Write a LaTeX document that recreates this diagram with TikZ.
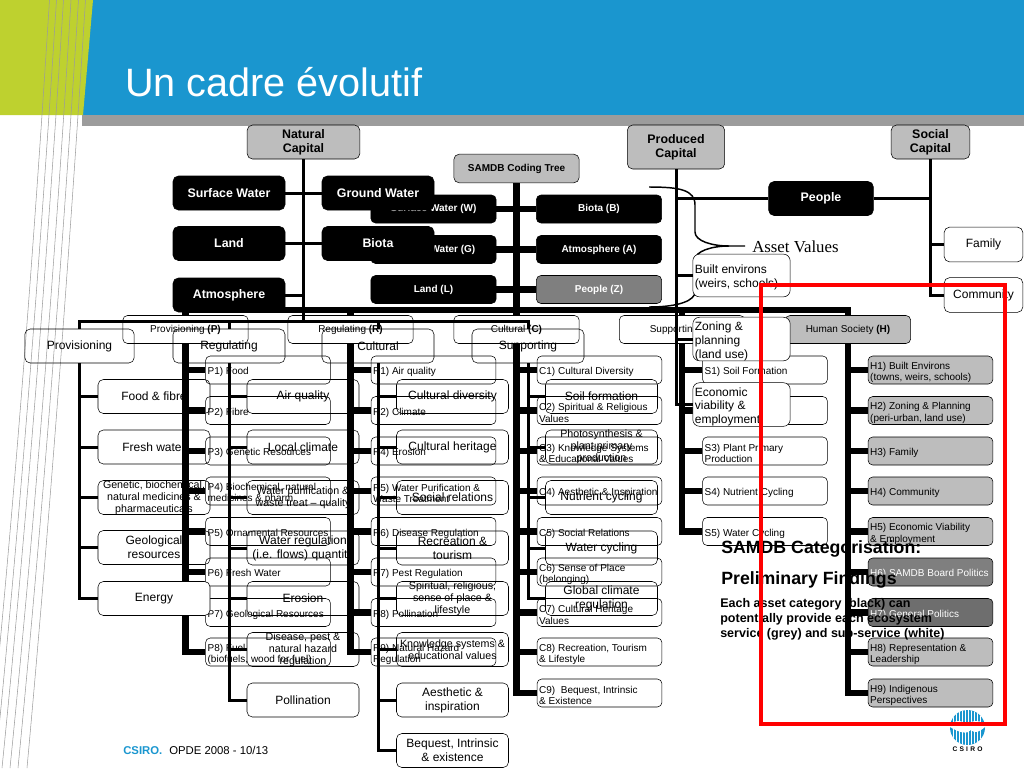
\documentclass[tikz,border=0pt]{standalone}
\usepackage{tikz}
\usepackage{xcolor}
\usepackage{fontspec}
\setmainfont{Liberation Sans}
\newfontfamily\assetfont{Liberation Serif}
\definecolor{slideblue}{HTML}{1A96CF}
\definecolor{slidegreen}{HTML}{BED12F}
\definecolor{bandgray}{HTML}{9C9C9C}
\definecolor{boxgray}{HTML}{BDBDBD}
\definecolor{darkgray}{HTML}{7F7F7F}
\definecolor{darkergray}{HTML}{6E6E6E}
\tikzset{
  trunk/.style={line width=5pt},
  stem/.style={line width=2.25pt},
  slant/.style={line width=.4pt,draw=bandgray},
  capbox/.style={draw,rounded corners=4pt,fill=boxgray,inner sep=0pt,align=center,
    font=\bfseries\fontsize{9.3}{10.8}\selectfont},
  assetbox/.style={draw,fill=black,text=white,rounded corners=4pt,inner sep=0pt,align=center,
    minimum width=84pt,minimum height=25.5pt,font=\bfseries\fontsize{9.3}{11}\selectfont},
  codebox/.style={draw,fill=black,text=white,rounded corners=3.5pt,inner sep=0pt,
    minimum width=94pt,minimum height=21pt,font=\bfseries\fontsize{7.5}{9}\selectfont},
  groupbox/.style={draw,rounded corners=3.5pt,inner sep=0pt,
    minimum width=94pt,minimum height=21pt,font=\fontsize{7.5}{9}\selectfont},
  subbox/.style={draw,rounded corners=3.5pt,inner ysep=0pt,inner xsep=1.6pt,text width=90.5pt,
    minimum height=21pt,align=flush left,font=\fontsize{7.5}{8.8}\selectfont,
    execute at begin node={\leavevmode\rule{0pt}{9pt}}},
  treebox/.style={draw,rounded corners=4pt,inner sep=0pt,align=center,
    minimum width=84pt,minimum height=25.5pt,font=\fontsize{9}{10.5}\selectfont},
  smallbox/.style={treebox,font=\fontsize{8}{9}\selectfont},
  leftbox/.style={draw,fill=white,rounded corners=5pt,inner ysep=0pt,inner xsep=1.5pt,text width=70pt,
    minimum height=32pt,align=flush left,font=\fontsize{9}{10.4}\selectfont,
    execute at begin node={\leavevmode\rule{0pt}{10pt}}},
}
\begin{document}
\begin{tikzpicture}[x=.75pt,y=-.75pt]
\useasboundingbox (0,0) rectangle (1024,768);
% slide
\fill [slideblue] (80,0) rectangle (1024,115);
\fill [slidegreen] (0,0) -- (93,0) -- (83,115) -- (0,115) -- cycle;
\fill [bandgray] (82,115) rectangle (1024,126);
\draw [slant] (85.5,0) .. controls (76,150) and (56,450) .. (27,768);
\draw [slant] (78.5,0) .. controls (69,150) and (49,450) .. (18,768);
\draw [slant] (71,0) .. controls (62,150) and (42,450) .. (10,768);
\draw [slant] (63.5,0) .. controls (54,150) and (34,450) .. (2,768);
\draw [slant] (56.5,0) .. controls (47,150) and (27,450) .. (-5,768);
\draw [slant] (49.5,0) .. controls (40,150) and (20,450) .. (-12,768);
\node [anchor=base west,inner sep=0pt,text=white,font=\fontsize{29.7}{32}\selectfont] (slidetitle) at (125,96) {Un cadre évolutif};

% coding tree
\node [capbox,minimum width=94pt,minimum height=21.5pt,font=\bfseries\fontsize{7.5}{9}\selectfont] (codetree) at (516.5,168.5) {SAMDB Coding Tree};
\node [codebox] (surfw) at (433.5,209) {Surface Water (W)};
\node [codebox] (groundg) at (433.5,249.5) {Ground Water (G)};
\node [codebox] (landl) at (433.5,289.5) {Land (L)};
\node [codebox] (biotab) at (599,209) {Biota (B)};
\node [codebox] (atmosa) at (599,249.5) {Atmosphere (A)};
\node [codebox,fill=darkgray] (peoplez) at (599,289.5) {People (Z)};
\coordinate (codejoin) at (516.5,310);
\node [groupbox] (provp) at (185.5,329.5) {Provisioning \textbf{(P)}};
\node [groupbox] (regr) at (350.5,329.5) {Regulating \textbf{(R)}};
\node [groupbox] (culc) at (516.5,329.5) {Cultural \textbf{(C)}};
\node [groupbox] (supps) at (682,329.5) {Supporting \textbf{(S)}};
\node [groupbox,fill=boxgray] (humanh) at (848,329.5) {Human Society \textbf{(H)}};

\node [subbox] (p1) at (268,370) {P1) Food};
\node [subbox] (p2) at (268,410.5) {P2) Fibre};
\node [subbox] (p3) at (268,451) {P3) Genetic Resources};
\node [subbox] (p4) at (268,491) {P4) Biochemical, natural\\medicines \& pharm.};
\node [subbox] (p5) at (268,531.5) {P5) Ornamental Resources};
\node [subbox] (p6) at (268,572) {P6) Fresh Water};
\node [subbox] (p7) at (268,612.5) {P7) Geological Resources};
\node [subbox] (p8) at (268,652) {P8) Fuel\\(biofuels, wood for fuel)};

\node [subbox] (r1) at (433.5,370) {R1) Air quality};
\node [subbox] (r2) at (433.5,410.5) {R2) Climate};
\node [subbox] (r4) at (433.5,451) {R4) Erosion};
\node [subbox] (r5) at (433.5,491) {R5) Water Purification \&\\Waste Treatment};
\node [subbox] (r6) at (433.5,531.5) {R6) Disease Regulation};
\node [subbox] (r7) at (433.5,572) {R7) Pest Regulation};
\node [subbox] (r8) at (433.5,612.5) {R8) Pollination};
\node [subbox] (r9) at (433.5,652) {R9) Natural Hazard\\Regulation};

\node [subbox] (c1) at (599.5,370) {C1) Cultural Diversity};
\node [subbox] (c2) at (599.5,410.5) {C2) Spiritual \& Religious\\Values};
\node [subbox] (c3) at (599.5,451) {C3) Knowledge Systems\\\& Educational Values};
\node [subbox] (c4) at (599.5,491) {C4) Aesthetic \& Inspiration};
\node [subbox] (c5) at (599.5,531.5) {C5) Social Relations};
\node [subbox] (c6) at (599.5,572) {C6) Sense of Place\\(belonging)};
\node [subbox] (c7) at (599.5,612.5) {C7) Cultural Heritage\\Values};
\node [subbox] (c8) at (599.5,652) {C8) Recreation, Tourism\\\& Lifestyle};
\node [subbox] (c9) at (599.5,693) {C9)~ Bequest, Intrinsic\\\& Existence};

\node [subbox] (s1) at (765,370) {S1) Soil Formation};
\node [subbox] (s2) at (765,410.5) {};
\node [subbox] (s3) at (765,451) {S3) Plant Primary\\Production};
\node [subbox] (s4) at (765,491) {S4) Nutrient Cycling};
\node [subbox] (s5) at (765,531.5) {S5) Water Cycling};

\node [subbox,fill=boxgray] (h1) at (930.5,370) {H1) Built Environs\\(towns, weirs, schools)};
\node [subbox,fill=boxgray] (h2) at (930.5,410.5) {H2) Zoning \& Planning\\(peri-urban, land use)};
\node [subbox,fill=boxgray] (h3) at (930.5,451) {H3) Family};
\node [subbox,fill=boxgray] (h4) at (930.5,491) {H4) Community};
\node [subbox,fill=boxgray] (h5) at (930.5,531.5) {H5) Economic Viability\\\& Employment};
\node [subbox,fill=darkgray,text=white] (h6) at (930.5,572) {H6) SAMDB Board Politics};
\node [subbox,fill=darkergray,text=white] (h7) at (930.5,612.5) {H7) General Politics};
\node [subbox,fill=boxgray] (h8) at (930.5,652) {H8) Representation \&\\Leadership};
\node [subbox,fill=boxgray] (h9) at (930.5,693) {H9) Indigenous\\Perspectives};

\draw [trunk] (surfw.east) -- (biotab.west);
\draw [trunk] (groundg.east) -- (atmosa.west);
\draw [trunk] (landl.east) -- (peoplez.west);
\draw [trunk] (codetree.south) -- (codejoin);
\draw [trunk] (provp.north) |- (codejoin) -| (humanh.north);
\draw [trunk] (regr.north) |- (codejoin);
\draw [trunk] (culc.north) |- (codejoin);
\draw [trunk] (supps.north) |- (codejoin);
\draw [trunk] (provp.south) |- (p1.west);
\draw [trunk] (provp.south) |- (p2.west);
\draw [trunk] (provp.south) |- (p3.west);
\draw [trunk] (provp.south) |- (p4.west);
\draw [trunk] (provp.south) |- (p5.west);
\draw [trunk] (provp.south) |- (p6.west);
\draw [trunk] (provp.south) |- (p7.west);
\draw [trunk] (provp.south) |- (p8.west);
\draw [trunk] (regr.south) |- (r1.west);
\draw [trunk] (regr.south) |- (r2.west);
\draw [trunk] (regr.south) |- (r4.west);
\draw [trunk] (regr.south) |- (r5.west);
\draw [trunk] (regr.south) |- (r6.west);
\draw [trunk] (regr.south) |- (r7.west);
\draw [trunk] (regr.south) |- (r8.west);
\draw [trunk] (regr.south) |- (r9.west);
\draw [trunk] (culc.south) |- (c1.west);
\draw [trunk] (culc.south) |- (c2.west);
\draw [trunk] (culc.south) |- (c3.west);
\draw [trunk] (culc.south) |- (c4.west);
\draw [trunk] (culc.south) |- (c5.west);
\draw [trunk] (culc.south) |- (c6.west);
\draw [trunk] (culc.south) |- (c7.west);
\draw [trunk] (culc.south) |- (c8.west);
\draw [trunk] (culc.south) |- (c9.west);
\draw [trunk] (supps.south) |- (s1.west);
\draw [trunk] (supps.south) |- (s2.west);
\draw [trunk] (supps.south) |- (s3.west);
\draw [trunk] (supps.south) |- (s4.west);
\draw [trunk] (supps.south) |- (s5.west);
\draw [trunk] (humanh.south) |- (h1.west);
\draw [trunk] (humanh.south) |- (h2.west);
\draw [trunk] (humanh.south) |- (h3.west);
\draw [trunk] (humanh.south) |- (h4.west);
\draw [trunk] (humanh.south) |- (h5.west);
\draw [trunk] (humanh.south) |- (h6.west);
\draw [trunk] (humanh.south) |- (h7.west);
\draw [trunk] (humanh.south) |- (h8.west);
\draw [trunk] (humanh.south) |- (h9.west);

% capital trees
\draw [line width=1.1pt] (649,187) .. controls (680,187) and (695,190) .. (695,205) -- (695,232) .. controls (695,241) and (712,246) .. (729,246) -- (745,246);
\draw [line width=1.1pt] (729,246) .. controls (712,246) and (695,251) .. (695,260) -- (695,292) .. controls (695,300) and (680,307) .. (649,307);
\node [anchor=west,inner sep=0pt,font=\assetfont\fontsize{12.6}{14}\selectfont] (assetval) at (752,247) {Asset Values};

\node [capbox,minimum width=84.5pt,minimum height=25.5pt] (natcap) at (303.5,142) {Natural\\Capital};
\node [capbox,minimum width=73pt,minimum height=33pt] (prodcap) at (676,147) {Produced\\Capital};
\node [capbox,minimum width=59pt,minimum height=25.5pt] (soccap) at (930.5,142) {Social\\Capital};

\node [assetbox] (surface) at (229,193) {Surface Water};
\node [assetbox] (ground) at (378,193) {Ground Water};
\node [assetbox] (land) at (229,243.5) {Land};
\node [assetbox] (biota) at (378,243.5) {Biota};
\node [assetbox] (atmos) at (229,295) {Atmosphere};
\node [assetbox,minimum width=78.5pt] (people) at (821,198.5) {People};

\coordinate (capjoin) at (303.5,321);
\node [treebox,minimum width=82pt] (prov) at (79.5,346) {Provisioning};
\node [treebox] (reg) at (229,346) {Regulating};
\node [treebox] (cul) at (378,346) {Cultural};
\node [treebox] (supp) at (528,346) {Supporting};

\node [treebox] (food) at (154,396.5) {Food \& fibre};
\node [treebox] (fresh) at (154,447) {Fresh water};
\node [smallbox] (genetic) at (154,497.5) {Genetic, biochemical,\\natural medicines \&\\pharmaceuticals};
\node [treebox] (geo) at (154,547.5) {Geological\\resources};

\node [treebox] (airq) at (303,396.5) {Air quality};
\node [treebox] (localc) at (303,447) {Local climate};
\node [smallbox] (waterp) at (303,497.5) {Water purification \&\\waste treat -- quality};
\node [treebox] (waterr) at (303,548) {Water regulation\\(i.e. flows) quantity};
\node [treebox] (erosion) at (303,598.5) {Erosion};
\node [smallbox] (disease) at (303,649.5) {Disease, pest \&\\natural hazard\\regulation};
\node [treebox] (pollin) at (303,700) {Pollination};

\node [treebox] (culdiv) at (452.5,396.5) {Cultural diversity};
\node [treebox] (culher) at (452.5,447) {Cultural heritage};
\node [treebox] (socrel) at (452.5,497.5) {Social relations};
\node [treebox] (recre) at (452.5,548) {Recreation \&\\tourism};
\node [smallbox] (spirit) at (452.5,598.5) {Spiritual, religious,\\sense of place \&\\lifestyle};
\node [smallbox] (knowl) at (452.5,649.5) {Knowledge systems \&\\educational values};
\node [treebox] (aesth) at (452.5,700) {Aesthetic \&\\inspiration};
\node [treebox] (bequ) at (452.5,750.5) {Bequest, Intrinsic\\\& existence};

\node [treebox] (soilf) at (601.5,396.5) {Soil formation};
\node [smallbox] (photo) at (601.5,447) {Photosynthesis \&\\plant primary\\production};
\node [treebox] (nutri) at (601.5,497.5) {Nutrient cycling};
\node [treebox] (waterc) at (601.5,548) {Water cycling};
\node [treebox] (globalc) at (601.5,598.5) {Global climate\\regulation};

\node [treebox,minimum width=59pt,minimum height=26pt] (family) at (983.5,244.5) {Family};
\node [treebox,minimum width=59pt,minimum height=26pt] (commu) at (983.5,295) {Community};

\draw [stem] (surface.east) -- (ground.west);
\draw [stem] (land.east) -- (biota.west);
\draw [stem] (atmos.east) -| (natcap.south);
\draw [stem] (natcap.south) -- (capjoin);
\draw [stem] (prov.north) |- (capjoin) -| (supp.north);
\draw [stem] (reg.north) |- (capjoin);
\draw [stem] (cul.north) |- (capjoin);
\draw [stem] (prov.south) |- (food.west);
\draw [stem] (prov.south) |- (fresh.west);
\draw [stem] (prov.south) |- (genetic.west);
\draw [stem] (prov.south) |- (geo.west);
\draw [stem] (reg.south) |- (airq.west);
\draw [stem] (reg.south) |- (localc.west);
\draw [stem] (reg.south) |- (waterp.west);
\draw [stem] (reg.south) |- (waterr.west);
\draw [stem] (reg.south) |- (erosion.west);
\draw [stem] (reg.south) |- (disease.west);
\draw [stem] (reg.south) |- (pollin.west);
\draw [stem] (cul.south) |- (culdiv.west);
\draw [stem] (cul.south) |- (culher.west);
\draw [stem] (cul.south) |- (socrel.west);
\draw [stem] (cul.south) |- (recre.west);
\draw [stem] (cul.south) |- (spirit.west);
\draw [stem] (cul.south) |- (knowl.west);
\draw [stem] (cul.south) |- (aesth.west);
\draw [stem] (cul.south) |- (bequ.west);
\draw [stem] (supp.south) |- (soilf.west);
\draw [stem] (supp.south) |- (photo.west);
\draw [stem] (supp.south) |- (nutri.west);
\draw [stem] (supp.south) |- (waterc.west);
\draw [stem] (supp.south) |- (globalc.west);
\draw [stem] (prodcap.south) |- (people.west);
\draw [stem] (soccap.south) |- (people.east);
\draw [stem] (soccap.south) |- (family.west);
\draw [stem] (soccap.south) |- (commu.west);

% white boxes on top of the tree
\node [treebox,fill=white] (energy) at (154,598.5) {Energy};
\draw [stem] (prov.south) |- (energy.west);
\node [leftbox] (built) at (741.5,275.5) {Built environs\\(weirs, schools)};
\node [leftbox] (zoning) at (741.5,339) {Zoning \&\\planning\\(land use)};
\node [leftbox] (econ) at (741.5,404.5) {Economic\\viability \&\\employment};
\draw [stem] (prodcap.south) |- (built.west);
\draw [stem] (prodcap.south) |- (zoning.west);
\draw [stem] (prodcap.south) |- (econ.west);

% findings
\node [anchor=base west,inner sep=0pt,font=\bfseries\fontsize{13.3}{15}\selectfont] (findtitle) at (721,553) {SAMDB Categorisation:};
\node [anchor=base west,inner sep=0pt,font=\bfseries\fontsize{13.3}{15}\selectfont] (findsub) at (721,584) {Preliminary Findings};
\node [anchor=north west,inner sep=0pt,align=left,font=\bfseries\fontsize{9.4}{11.3}\selectfont] (findtext) at (720,598) {Each asset category (black) can\\potentially provide each ecosystem\\service (grey) and sub-service (white)};

% footer
\node [anchor=base west,inner sep=0pt,text=slideblue,font=\bfseries\fontsize{8.5}{10}\selectfont] (footcsiro) at (123,754) {CSIRO.};
\node [anchor=base west,inner sep=0pt,font=\fontsize{8.5}{10}\selectfont] (footdate) at (169,754) {OPDE 2008 - 10/13};

% logo
\fill [slideblue] (967.5,727.5) circle (17.5);
\begin{scope}
\clip (967.5,727.5) circle (17.5);
\fill [white] (950,724) .. controls (958,719) and (962,721) .. (967,724) .. controls (972,721) and (977,719) .. (985,724) -- (985,727) .. controls (979,732) and (975,734) .. (971,730) .. controls (967,735) and (958,732) .. (950,727) -- cycle;
\draw [white,line width=.25pt] (953,710) -- (953,745) (956,710) -- (956,745) (959,710) -- (959,745) (962,710) -- (962,745) (965,710) -- (965,745) (968,710) -- (968,745) (971,710) -- (971,745) (974,710) -- (974,745) (977,710) -- (977,745) (980,710) -- (980,745);
\end{scope}
\node [inner sep=0pt,font=\bfseries\fontsize{5}{6}\selectfont] (logotext) at (967.5,749.5) {C\,\,S\,\,I\,\,R\,\,O};

% red frame
\draw [red,line width=3pt] (760.5,284.5) rectangle (1004.5,723.5);
\end{tikzpicture}
\end{document}
